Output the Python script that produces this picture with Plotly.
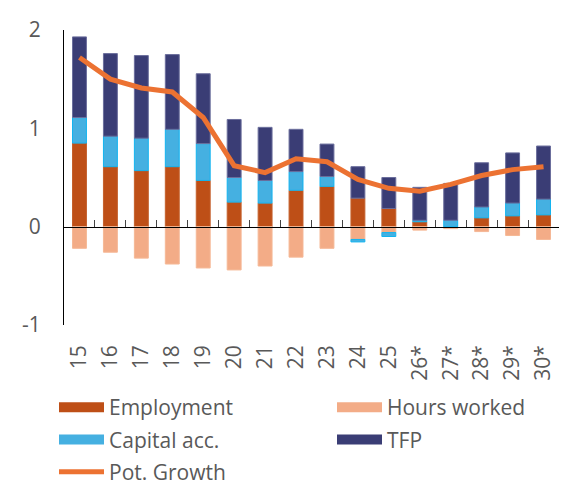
import plotly.graph_objects as go

# potential growth decomposition (pp)
years = ["15", "16", "17", "18", "19", "20", "21", "22", "23", "24", "25",
         "26*", "27*", "28*", "29*", "30*"]
employment = [0.85, 0.61, 0.57, 0.61, 0.47, 0.25, 0.24, 0.37, 0.41, 0.29, 0.185,
              0.05, 0.0, 0.09, 0.11, 0.12]
hours_worked = [-0.22, -0.26, -0.32, -0.38, -0.42, -0.44, -0.40, -0.31, -0.22, -0.13, -0.06,
                -0.035, -0.02, -0.05, -0.09, -0.13]
capital_acc = [0.26, 0.31, 0.33, 0.38, 0.375, 0.25, 0.23, 0.19, 0.10, -0.025, -0.04,
               0.015, 0.065, 0.11, 0.13, 0.16]
tfp = [0.82, 0.84, 0.84, 0.76, 0.71, 0.59, 0.54, 0.43, 0.33, 0.32, 0.315,
       0.335, 0.375, 0.45, 0.51, 0.54]
pot_growth = [1.72, 1.50, 1.41, 1.37, 1.11, 0.62, 0.55, 0.69, 0.66, 0.48, 0.39,
              0.36, 0.43, 0.52, 0.58, 0.61]

y_ticks = [-1, 0, 1, 2]
y_labels = ["-1", "0", "1", "2"]

FONT = "Open Sans"
GREY = "#595959"
W, H = 569, 476  # page body adds an 8px margin

fig = go.Figure()

# name, values, fill, edge, which legend column
bars = [
    ("Employment", employment, "#BE4F17", "#C4602C", "legend"),
    ("Hours worked", hours_worked, "#F3AC87", "#F5B896", "legend2"),
    ("Capital acc.", capital_acc, "#45B0E1", "#12B4F0", "legend"),
    ("TFP", tfp, "#3A3D75", "#6B6E9C", "legend2"),
]
for name, vals, col, edge, leg in bars:
    fig.add_trace(go.Bar(x=years, y=vals, name=name, width=0.45, legendgroup=name,
                         showlegend=False,
                         marker=dict(color=col, line=dict(color=edge, width=1))))

# wide rectangular legend keys, like the original
for name, vals, col, edge, leg in bars:
    fig.add_trace(go.Scatter(x=[None], y=[None], name=name, legendgroup=name,
                             legend=leg, mode="lines", line=dict(color=col, width=12)))

fig.add_trace(go.Scatter(x=years, y=pot_growth, name="Pot. Growth", mode="lines",
                         legendgroup="pot", legend="legend",
                         line=dict(color="#EC7232", width=5)))

# invisible helper trace so the zero-line axis (with boundary ticks) gets drawn
fig.add_trace(go.Scatter(x=years, y=[0] * len(years), xaxis="x2", mode="markers",
                         marker=dict(opacity=0), showlegend=False, hoverinfo="skip"))

leg_style = dict(xref="container", yref="container", xanchor="left", yanchor="top",
                 y=1 - 379 / H, orientation="v", traceorder="grouped", tracegroupgap=2,
                 itemwidth=45, font=dict(size=21, color=GREY), bgcolor="rgba(0,0,0,0)")

fig.update_layout(
    width=W, height=H,
    barmode="relative",
    plot_bgcolor="white", paper_bgcolor="white",
    margin=dict(l=56, r=18, t=22, b=159, autoexpand=False),
    font=dict(family=FONT, size=21, color=GREY),
    xaxis=dict(type="category", range=[-0.5, 15.5], showline=False, ticks="",
               showgrid=False, tickangle=-90, ticklabelstandoff=15,
               tickfont=dict(size=21, color=GREY)),
    xaxis2=dict(type="category", overlaying="x", anchor="free", position=1 / 3,
                range=[-0.5, 15.5], showline=True, linecolor="black", linewidth=1.3,
                ticks="inside", tickson="boundaries", ticklen=7, tickcolor="#444",
                tickwidth=1.3, showticklabels=False, showgrid=False),
    yaxis=dict(range=[-1, 2], tickvals=y_ticks, ticktext=y_labels, showgrid=False,
               zeroline=False, showline=True, linecolor="black", linewidth=1.3,
               ticks="", ticklabelstandoff=18, tickfont=dict(size=21, color=GREY)),
    legend=dict(x=46 / W, **leg_style),
    legend2=dict(x=324 / W, **leg_style),
)

fig.write_html("out.html")
